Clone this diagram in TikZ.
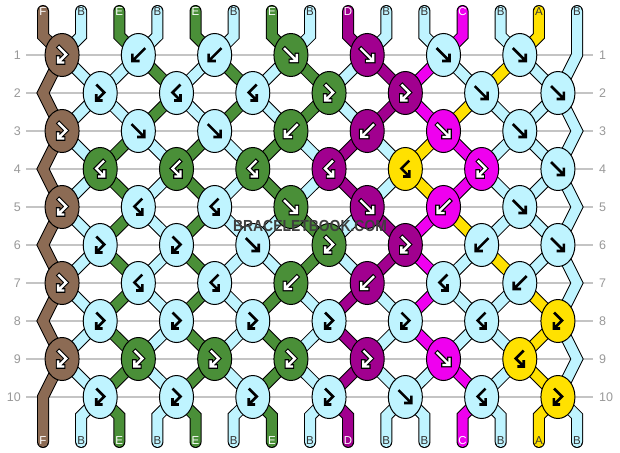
\documentclass[tikz,border=0pt]{standalone}
\usepackage{fontspec}
\setmainfont{Liberation Sans}
\usetikzlibrary{shapes.geometric}

\definecolor{colF}{HTML}{8C6B54}
\definecolor{colB}{HTML}{BFF4FF}
\definecolor{colE}{HTML}{4A8F38}
\definecolor{colD}{HTML}{A1008F}
\definecolor{colC}{HTML}{EF00EF}
\definecolor{colA}{HTML}{FFE100}
\definecolor{txtF}{HTML}{FFFFFF}
\definecolor{txtE}{HTML}{FFFFFF}
\definecolor{txtD}{HTML}{FFFFFF}
\definecolor{txtC}{HTML}{FFFFFF}
\definecolor{txtB}{HTML}{333333}
\definecolor{txtA}{HTML}{333333}
\definecolor{gridgray}{HTML}{C4C4C4}
\definecolor{numgray}{HTML}{999999}
\definecolor{marktext}{HTML}{3E3E3E}

\pgfdeclarelayer{bg}
\pgfdeclarelayer{fg}
\pgfdeclarelayer{topl}
\pgfsetlayers{bg,main,fg,topl}

\def\letA{A}\def\letB{B}
\def\typef{f}\def\typeb{b}\def\typefb{fb}\def\typebf{bf}

\tikzset{
  knot/.style={ellipse, draw=black, line width=1pt, minimum width=34pt, minimum height=43pt, inner sep=0pt},
  strandout/.style={line width=12pt, draw=black, line cap=round, line join=miter},
  strandin/.style={line width=10pt, line cap=round, line join=miter},
  arrline/.style={line cap=rect, line join=miter},
  lbl/.style={font=\fontsize{11.5}{11.5}\selectfont, inner sep=0pt},
  rownum/.style={font=\fontsize{12.5}{12.5}\selectfont, text=numgray, inner sep=0pt},
  gridline/.style={draw=gridgray, line width=1.5pt},
}

% name of the point of position #2 in row #1
\newcommand\ptname[2]{%
  \pgfmathtruncatemacro\rodd{mod(#1,2)}%
  \ifnum\rodd=1
    \ifnum#2=15 \edef\pn{E-#1}\else
      \pgfmathtruncatemacro\kk{int((#2-1)/2)}\edef\pn{K-#1-\kk.center}\fi
  \else
    \ifnum#2=1 \edef\pn{E-#1}\else
      \pgfmathtruncatemacro\kk{int((#2-2)/2)}\edef\pn{K-#1-\kk.center}\fi
  \fi}

\newcommand\strand[2]{%
  \draw[strandout] #2;
  \draw[strandin, draw=col#1] #2;}

\newcommand\links[2]{%
  \foreach \cl [count=\pp] in {#2} {%
    \ifnum\pp>1 \ifnum\pp<15
      \ptname{#1}{\pp}\let\pa\pn
      \pgfmathtruncatemacro\rn{#1+1}%
      \ptname{\rn}{\pp}\let\pb\pn
      \strand{\cl}{(\pa) -- (\pb)}%
    \fi\fi
  }}

\newcommand\knotarrow[3]{%
  \edef\argt{#2}\edef\argc{#3}%
  \ifx\argt\typef \def\curpath{(-6,-6) -- (5,5) (0,6) -- (6,6) -- (6,0)}\fi
  \ifx\argt\typeb \def\curpath{(6,-6) -- (-5,5) (0,6) -- (-6,6) -- (-6,0)}\fi
  \ifx\argt\typefb \def\curpath{(-3,-7.5) -- (4,-0.5) -- (-3,6.5) (1,7.5) -- (-4,7.5) -- (-4,2.5)}\fi
  \ifx\argt\typebf \def\curpath{(3,-7.5) -- (-4,-0.5) -- (3,6.5) (-1,7.5) -- (4,7.5) -- (4,2.5)}\fi
  \def\arrdark{1}%
  \ifx\argc\letA \def\arrdark{0}\fi
  \ifx\argc\letB \def\arrdark{0}\fi
  \begin{scope}[shift={(#1.center)}]
    \ifnum\arrdark=1
      \edef\tmpcmd{\noexpand\draw[arrline,line width=4.6pt,black] \curpath; \noexpand\draw[arrline,line width=2.4pt,white] \curpath;}%
    \else
      \edef\tmpcmd{\noexpand\draw[arrline,line width=2.6pt,black] \curpath;}%
    \fi
    \tmpcmd
  \end{scope}}

\newcommand\knotrow[2]{%
  \foreach \cl/\kt [count=\kn from 0] in {#2} {%
    \pgfmathsetmacro\kx{mod(#1,2)==1 ? 62.07+76.2857*\kn : 100.21+76.2857*\kn}%
    \node[knot, fill=col\cl] (K-#1-\kn) at (\kx, {55+38*(#1-1)}) {};
    \knotarrow{K-#1-\kn}{\kt}{\cl}%
  }}

\begin{document}
\begin{tikzpicture}[x=1pt,y=-1pt]
\begin{pgfonlayer}{bg}
  \fill[white, use as bounding box] (0,0) rectangle (620,452);
  \foreach \rr in {1,...,10} {
    \draw[gridline] (26,{55+38*(\rr-1)}) -- (593,{55+38*(\rr-1)});
    \node[rownum, anchor=east] (NL-\rr) at (21,{55+38*(\rr-1)}) {\rr};
    \node[rownum, anchor=west] (NR-\rr) at (599,{55+38*(\rr-1)}) {\rr};
  }
\end{pgfonlayer}

% fixed points
\foreach \pp in {1,...,15} {
  \pgfmathsetmacro\xx{43+38.142857*(\pp-1)}
  \coordinate (T-\pp) at (\xx,11);
  \coordinate (TB-\pp) at (\xx,36);
  \coordinate (BB-\pp) at (\xx,416);
  \coordinate (BT-\pp) at (\xx,442);
}
\foreach \rr in {1,...,10} {
  \pgfmathtruncatemacro\rodd{mod(\rr,2)}
  \ifnum\rodd=1
    \coordinate (E-\rr) at (577,{55+38*(\rr-1)});
  \else
    \coordinate (E-\rr) at (43,{55+38*(\rr-1)});
  \fi
}

% knots
\begin{pgfonlayer}{fg}
  \knotrow{1}{F/fb,B/b,B/b,E/f,D/f,B/f,B/f}
  \knotrow{2}{B/fb,B/bf,B/bf,E/fb,D/fb,B/f,B/f}
  \knotrow{3}{F/fb,B/f,B/f,E/b,D/b,C/f,B/f}
  \knotrow{4}{E/bf,E/bf,E/bf,D/bf,A/bf,C/fb,B/f}
  \knotrow{5}{F/fb,B/bf,B/bf,E/f,D/f,C/b,B/f}
  \knotrow{6}{B/fb,B/fb,B/f,E/fb,D/fb,B/b,B/f}
  \knotrow{7}{F/fb,B/bf,B/bf,E/b,D/b,B/bf,B/b}
  \knotrow{8}{B/fb,B/fb,B/fb,B/fb,B/fb,B/bf,A/fb}
  \knotrow{9}{F/fb,E/fb,E/fb,E/fb,D/fb,C/f,A/bf}
  \knotrow{10}{B/fb,B/fb,B/fb,B/fb,B/f,B/bf,A/fb}
\end{pgfonlayer}

% edge strands
\strand{F}{(T-1) -- (TB-1) -- (K-1-0.center) -- (E-2) -- (K-3-0.center) -- (E-4) -- (K-5-0.center) -- (E-6) -- (K-7-0.center) -- (E-8) -- (K-9-0.center) -- (E-10) -- (BT-1)}
\strand{B}{(T-15) -- (E-1) -- (K-2-6.center) -- (E-3) -- (K-4-6.center) -- (E-5) -- (K-6-6.center) -- (E-7) -- (K-8-6.center) -- (E-9) -- (K-10-6.center) -- (BB-15) -- (BT-15)}

% top strands
\foreach \cl [count=\pp] in {F,B,E,B,E,B,E,B,D,B,B,C,B,A,B} {
  \ifnum\pp>1 \ifnum\pp<15
    \ptname{1}{\pp}%
    \strand{\cl}{(T-\pp) -- (TB-\pp) -- (\pn)}%
  \fi\fi
}
% links between rows
\links{1}{F,B,B,E,B,E,B,E,B,D,C,B,A,B,B}
\links{2}{F,B,B,E,B,E,B,E,B,D,C,A,B,B,B}
\links{3}{F,B,E,B,E,B,E,B,D,B,A,C,B,B,B}
\links{4}{F,B,E,B,E,B,E,B,D,B,A,C,B,B,B}
\links{5}{F,B,E,B,E,B,B,E,B,D,C,A,B,B,B}
\links{6}{F,B,E,B,E,B,B,E,B,D,C,B,A,B,B}
\links{7}{F,B,E,B,E,B,E,B,D,B,C,B,B,A,B}
\links{8}{F,B,E,B,E,B,E,B,D,B,C,B,B,A,B}
\links{9}{F,B,E,B,E,B,E,B,D,B,B,C,B,A,B}
% bottom strands
\foreach \cl [count=\pp] in {F,B,E,B,E,B,E,B,D,B,B,C,B,A,B} {
  \ifnum\pp>1 \ifnum\pp<15
    \ptname{10}{\pp}%
    \strand{\cl}{(\pn) -- (BB-\pp) -- (BT-\pp)}%
  \fi\fi
}
% string labels
\foreach \cl [count=\pp] in {F,B,E,B,E,B,E,B,D,B,B,C,B,A,B} {
  \node[lbl, text=txt\cl] (LT-\pp) at ({43+38.142857*(\pp-1)},12) {\cl};
  \node[lbl, text=txt\cl] (LB-\pp) at ({43+38.142857*(\pp-1)},441) {\cl};
}

\begin{pgfonlayer}{topl}
  \node[font=\bfseries\fontsize{16}{16}\selectfont, text=marktext, xscale=0.87, inner sep=0pt] (wm) at (310,226) {BRACELETBOOK.COM};
\end{pgfonlayer}
\end{tikzpicture}
\end{document}
